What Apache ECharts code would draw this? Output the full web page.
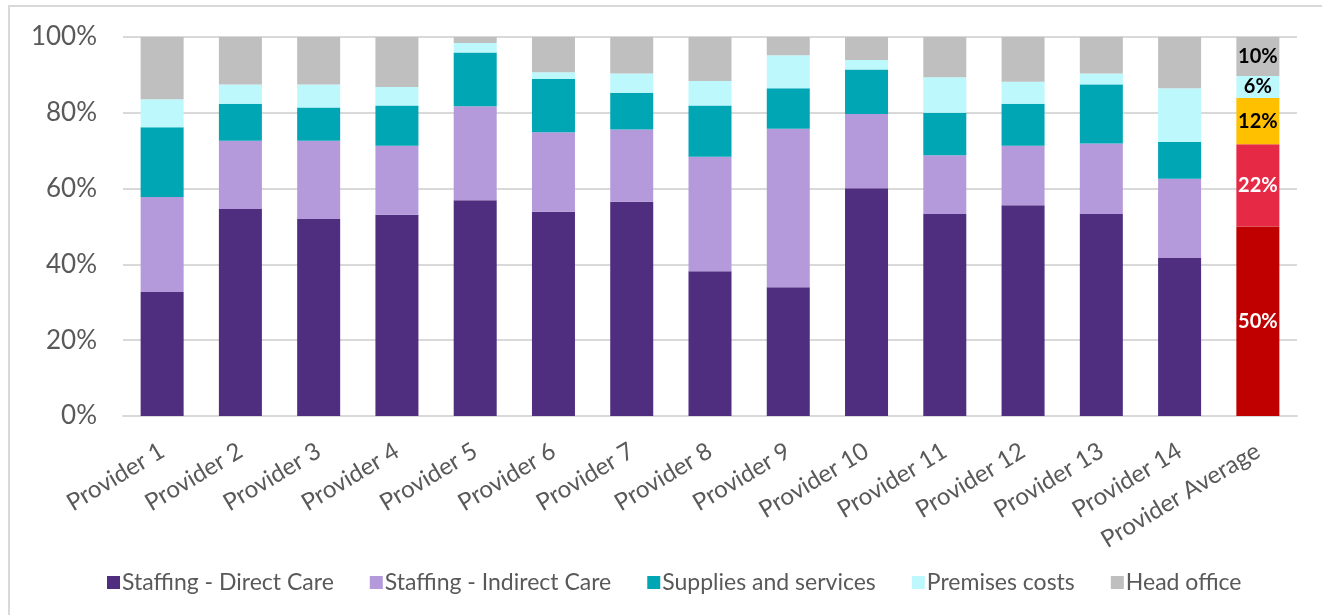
<!DOCTYPE html>
<html>
<head>
<meta charset="utf-8">
<script src="https://cdn.jsdelivr.net/npm/echarts@6/dist/echarts.min.js"></script>
<style>
html,body{margin:0;padding:0;background:#fff;}
#frame{position:absolute;left:8px;top:5px;width:1314px;height:610px;border-left:2px solid #D9D9D9;border-top:2px solid #D9D9D9;box-sizing:border-box;}
#chart{position:absolute;left:0;top:0;width:1322px;height:615px;}
</style>
</head>
<body>
<div id="frame"></div>
<div id="chart"></div>
<script>
const categories = ['Provider 1','Provider 2','Provider 3','Provider 4','Provider 5','Provider 6','Provider 7','Provider 8','Provider 9','Provider 10','Provider 11','Provider 12','Provider 13','Provider 14','Provider Average'];
const seriesNames = ['Staffing - Direct Care','Staffing - Indirect Care','Supplies and services','Premises costs','Head office'];
const directCare   = [32.7, 54.6, 52.0, 53.1, 56.9, 53.9, 56.5, 38.2, 34.0, 60.1, 53.3, 55.6, 53.3, 41.7, 50.0];
const indirectCare = [25.1, 18.0, 20.6, 18.2, 24.8, 21.0, 19.1, 30.2, 41.8, 19.6, 15.5, 15.7, 18.6, 20.9, 21.7];
const supplies     = [18.4,  9.8,  8.8, 10.6, 14.2, 14.1,  9.7, 13.5, 10.7, 11.7, 11.2, 11.1, 15.6,  9.7, 12.2];
const premises     = [ 7.4,  5.1,  6.1,  4.9,  2.5,  1.7,  5.1,  6.5,  8.7,  2.5,  9.4,  5.8,  2.9, 14.2,  5.8];
const headOffice   = [16.4, 12.5, 12.5, 13.2,  1.6,  9.3,  9.6, 11.6,  4.8,  6.1, 10.6, 11.8,  9.6, 13.5, 10.3];
const yTicks = [0, 20, 40, 60, 80, 100];

const colors = ['#4F2D7F','#B49ADB','#00A6B4','#BDF8FD','#BFBFBF'];
const avgColors = ['#C00000','#E62A46','#FFC000','#BDF8FD','#BFBFBF'];
const avgLabelColors = ['#FFFFFF','#FFFFFF','#000000','#000000','#000000'];
const allData = [directCare, indirectCare, supplies, premises, headOffice];
const lastIdx = categories.length - 1;

const series = allData.map((arr, si) => ({
  name: seriesNames[si],
  type: 'bar',
  stack: 'total',
  barWidth: 43,
  itemStyle: { color: colors[si] },
  emphasis: { disabled: true },
  data: arr.map((v, i) => {
    if (i !== lastIdx) return v;
    return {
      value: v,
      itemStyle: { color: avgColors[si] },
      label: {
        show: true,
        position: 'inside',
        formatter: (p) => Math.round(p.value) + '%',
        color: avgLabelColors[si],
        fontFamily: 'Lato',
        fontWeight: 'bold',
        fontSize: 20
      }
    };
  })
}));

const chart = echarts.init(document.getElementById('chart'), null, {renderer: 'canvas'});
chart.setOption({
  animation: false,
  backgroundColor: 'transparent',
  textStyle: { fontFamily: 'Lato' },
  grid: { left: 123, right: 25, top: 37, bottom: 199, containLabel: false },
  legend: {
    data: seriesNames,
    bottom: 16,
    left: 102,
    itemWidth: 13,
    itemHeight: 13,
    itemGap: 36,
    icon: 'rect',
    textStyle: { color: '#595959', fontSize: 23, fontFamily: 'Lato', padding: [0,0,0,-3] }
  },
  xAxis: {
    type: 'category',
    data: categories,
    axisLine: { lineStyle: { color: '#D9D9D9', width: 2 } },
    axisTick: { show: false },
    axisLabel: { color: '#595959', fontSize: 24, fontFamily: 'Lato', rotate: 31, margin: 33, interval: 0 }
  },
  yAxis: {
    type: 'value',
    min: yTicks[0],
    max: yTicks[yTicks.length - 1],
    interval: 20,
    axisLine: { show: false },
    axisTick: { show: false },
    splitLine: { lineStyle: { color: '#D9D9D9', width: 2 } },
    axisLabel: { color: '#595959', fontSize: 26, fontFamily: 'Lato', margin: 26, formatter: '{value}%' }
  },
  series: series
});
</script>
</body>
</html>
